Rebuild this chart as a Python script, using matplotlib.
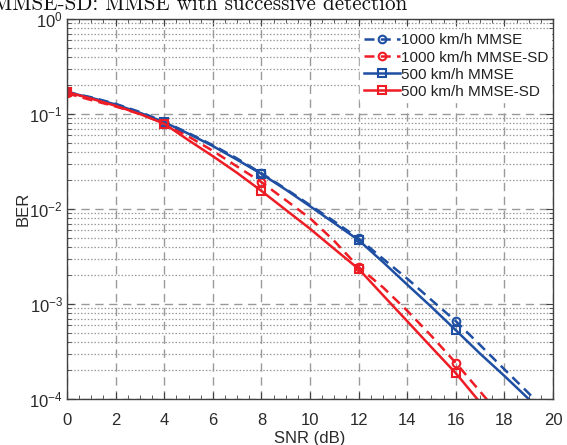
import numpy as np
import matplotlib
matplotlib.use("Agg")
import matplotlib.pyplot as plt
from matplotlib.ticker import LogLocator, MultipleLocator, NullFormatter

snr = [0, 1, 2, 3, 4, 5, 6, 7, 8, 9, 10, 11, 12, 13, 14, 15, 16, 17, 18, 19, 20]

ber_1000_mmse = [0.170, 0.150, 0.128, 0.105, 0.083, 0.063, 0.047, 0.034, 0.0238, 0.0163,
                 0.0110, 0.0074, 0.0049, 0.0030, 0.00185, 0.00110, 6.6e-4, 3.7e-4,
                 2.05e-4, 1.15e-4, 6.2e-5]
ber_1000_mmse_sd = [0.165, 0.140, 0.120, 0.100, 0.080, 0.058, 0.041, 0.028, 0.0192, 0.0124,
                    0.0080, 0.0046, 0.00245, 0.00150, 8.5e-4, 4.6e-4, 2.4e-4, 1.2e-4,
                    6e-5, 3e-5, 1.5e-5]
ber_500_mmse = [0.170, 0.148, 0.126, 0.103, 0.082, 0.062, 0.046, 0.033, 0.0234, 0.0160,
                0.0107, 0.0071, 0.0047, 0.00277, 0.00160, 9.3e-4, 5.3e-4, 3.0e-4,
                1.75e-4, 1.0e-4, 5.7e-5]
ber_500_mmse_sd = [0.170, 0.145, 0.122, 0.100, 0.079, 0.053, 0.036, 0.024, 0.0155, 0.0098,
                   0.0062, 0.0038, 0.00234, 0.00124, 6.6e-4, 3.5e-4, 1.87e-4, 9.2e-5,
                   4.5e-5, 2.2e-5, 1.1e-5]

labels = ["1000 km/h MMSE", "1000 km/h MMSE-SD", "500 km/h MMSE", "500 km/h MMSE-SD"]

blue = "#1f4fa3"
red = "#ee1c25"

fig = plt.figure(figsize=(5.67, 4.45), dpi=100)
ax = fig.add_axes([67/567, 1-399/445, (553-67)/567, (399-19)/445])

ax.semilogy(snr, ber_1000_mmse, color=blue, ls=(0, (4, 2.5)), lw=1.8, marker='o',
            mfc='none', ms=5.5, mew=1.5, markevery=4, label=labels[0])
ax.semilogy(snr, ber_1000_mmse_sd, color=red, ls=(0, (4, 2.5)), lw=1.8, marker='o',
            mfc='none', ms=5.5, mew=1.5, markevery=4, label=labels[1])
ax.semilogy(snr, ber_500_mmse, color=blue, ls='-', lw=1.8, marker='s',
            mfc='none', ms=5.5, mew=1.5, markevery=4, label=labels[2])
ax.semilogy(snr, ber_500_mmse_sd, color=red, ls='-', lw=1.8, marker='s',
            mfc='none', ms=5.5, mew=1.5, markevery=4, label=labels[3])

ax.set_xlim(0, 20)
ax.set_ylim(1e-4, 1)
ax.xaxis.set_major_locator(MultipleLocator(2))
ax.xaxis.set_minor_locator(MultipleLocator(0.5))
ax.yaxis.set_major_locator(LogLocator(base=10, numticks=10))
ax.yaxis.set_minor_locator(LogLocator(base=10, subs=np.arange(2, 10), numticks=20))
ax.yaxis.set_minor_formatter(NullFormatter())

ax.grid(True, which='major', color='#9a9a9a', ls=(0, (6, 4)), lw=1.0)
ax.grid(True, which='minor', axis='y', color='#9a9a9a', ls=(0, (1.2, 1.5)), lw=0.9)

ax.tick_params(which='both', direction='in', top=True, right=True, color='#404040')
ax.tick_params(which='major', length=5, labelsize=12, labelcolor='#2a2a2a')
ax.tick_params(axis='x', which='major', pad=10)
ax.tick_params(axis='y', which='major', pad=3)
ax.tick_params(which='minor', length=3)
for s in ax.spines.values():
    s.set_color('#404040')
    s.set_linewidth(1.0)

for lab in ax.get_xticklabels() + ax.get_yticklabels():
    lab.set_family(['Liberation Sans', 'DejaVu Sans'])

ax.set_xlabel("SNR (dB)", fontsize=12, color='#2a2a2a', family=['Liberation Sans'], labelpad=2)
ax.set_ylabel("BER", fontsize=12, color='#2a2a2a', family=['Liberation Sans'], labelpad=-1)

leg = ax.legend(loc='upper right', bbox_to_anchor=(1.003, 0.978),
                prop={'family': 'Liberation Sans', 'size': 11},
                frameon=True, fancybox=False, framealpha=1, edgecolor='white',
                handlelength=2.4, handletextpad=0.05, labelspacing=0.2,
                borderpad=0.2, borderaxespad=0.2)
for t in leg.get_texts():
    t.set_color('#222222')

fig.text(-0.012, 1 - 9.5/445, "MMSE-SD: MMSE with successive detection",
         family='cmr10', fontsize=15.2, ha='left', va='baseline', color='#111111')

fig.savefig("out.png", dpi=100)
